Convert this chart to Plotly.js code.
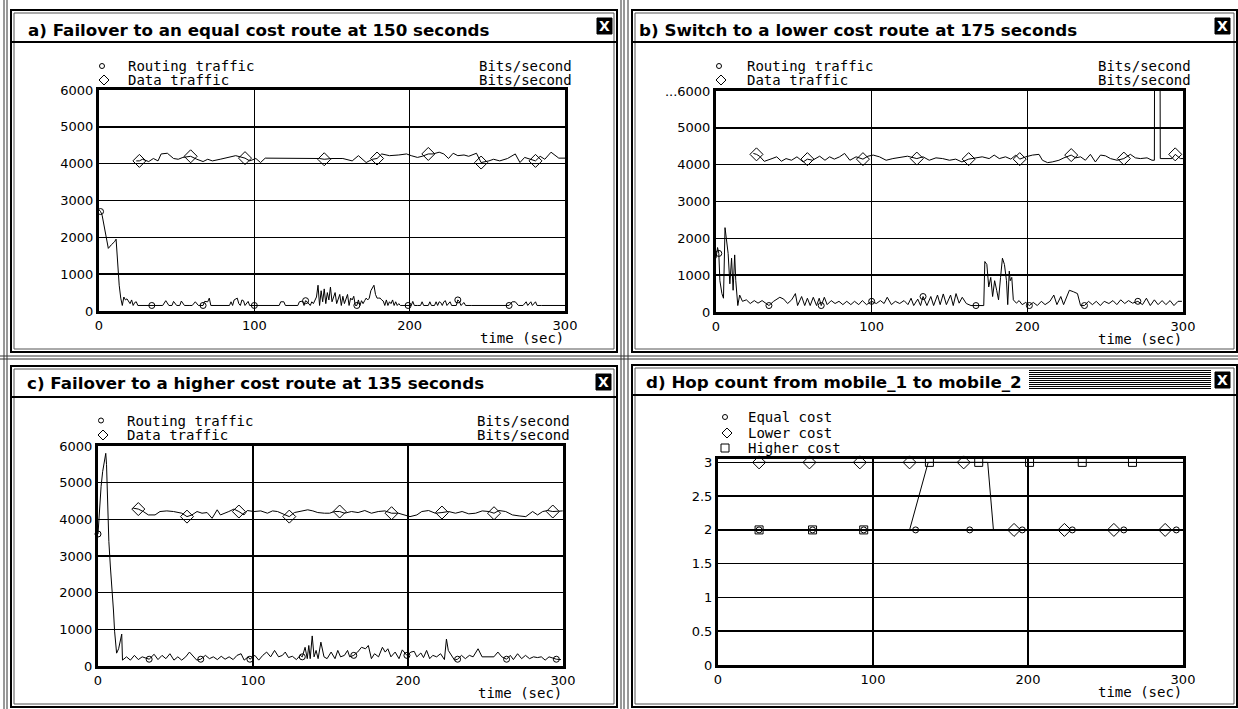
<!DOCTYPE html>
<html><head><meta charset="utf-8">
<script src="https://cdn.plot.ly/plotly-3.0.1.min.js"></script>
<style>html,body{margin:0;padding:0;background:#fff}#chart{width:1238px;height:709px}</style>
</head><body><div id="chart"></div>
<script>
// ---------------- DATA ----------------
const timeTicks = [0, 100, 200, 300];
const bitsTicks = [0, 1000, 2000, 3000, 4000, 5000, 6000];
const bitsTickText = ['0', '1000', '2000', '3000', '4000', '5000', '6000'];
const bitsTickTextB = ['0', '1000', '2000', '3000', '4000', '5000', '...6000'];
const hopTicks = [0, 0.5, 1, 1.5, 2, 2.5, 3];
const hopTickText = ['0', '0.5', '1', '1.5', '2', '2.5', '3'];

const titleA = 'a) Failover to an equal cost route at 150 seconds';
const titleB = 'b) Switch to a lower cost route at 175 seconds';
const titleC = 'c) Failover to a higher cost route at 135 seconds';
const titleD = 'd) Hop count from mobile_1 to mobile_2';
const legendTraffic = ['Routing traffic', 'Data traffic'];
const legendUnits = 'Bits/second';
const legendHop = ['Equal cost', 'Lower cost', 'Higher cost'];
const xAxisLabel = 'time (sec)';

// Panel a: [time, bits/sec]
const routingA = [[0,2750],[1,2700],[2,2600],[4,2100],[6,1700],[8,1800],[10,1880],[11,1950],[12,1300],[13,700],[14,350],[15,150],[16,380],[17,300],[18,330],[19,250],[20,200],[21,300],[22,150],[23,230],[24,250],[25,150],[27,150],[30,150],[34,150],[38,150],[41,150],[43,280],[45,150],[47,150],[48,260],[50,150],[52,150],[53,270],[55,150],[58,150],[60,150],[62,250],[64,150],[67,150],[68,260],[70,250],[71,350],[72,150],[75,150],[78,150],[81,150],[84,150],[85,250],[86,150],[87,300],[89,350],[90,200],[91,150],[92,300],[93,280],[94,150],[96,260],[97,150],[100,150],[104,150],[110,150],[116,150],[117,250],[119,250],[120,150],[125,150],[128,150],[129,250],[131,270],[132,150],[133,280],[134,250],[136,150],[137,250],[138,200],[140,380],[141,700],[142,150],[143,550],[144,250],[145,600],[146,200],[147,500],[148,300],[149,650],[150,250],[151,350],[152,500],[153,200],[154,300],[155,450],[156,150],[157,400],[158,200],[159,350],[160,450],[161,150],[162,350],[163,300],[164,400],[165,150],[166,150],[167,300],[168,150],[169,280],[170,200],[171,280],[172,350],[173,300],[174,350],[175,550],[176,650],[177,700],[178,450],[179,350],[180,350],[181,350],[182,300],[183,270],[184,150],[185,300],[186,150],[187,250],[188,200],[189,300],[190,150],[191,250],[192,150],[193,200],[194,150],[196,150],[199,150],[201,150],[202,260],[203,150],[205,150],[207,150],[208,250],[209,150],[212,150],[213,250],[214,150],[216,150],[217,250],[218,150],[219,250],[220,230],[221,150],[222,250],[223,280],[224,150],[226,250],[227,150],[230,150],[231,300],[232,260],[233,150],[235,230],[236,150],[240,150],[250,150],[258,150],[260,150],[264,150],[266,250],[268,250],[270,150],[273,150],[275,250],[276,150],[278,250],[279,150],[281,250],[282,150],[285,150],[290,150],[300,150]];
const routingAMarks = [1, 34, 67, 100, 133, 166, 199, 231, 264];
const dataA = [[24,4075],[26,4075],[28,4120],[32,4057],[35,4140],[38,4075],[40,4264],[44,4283],[48,4140],[51,4120],[54,4170],[59,4200],[63,4120],[67,4057],[70,4120],[73,4075],[78,4120],[84,4170],[88,4217],[94,4150],[97,4075],[101,4140],[104,4030],[107,4150],[114,4150],[122,4150],[133,4150],[142,4140],[145,4120],[150,4140],[157,4140],[163,4075],[167,4217],[172,4030],[176,4120],[179,4140],[182,4264],[187,4217],[193,4236],[198,4264],[201,4217],[205,4170],[208,4200],[212,4264],[215,4264],[219,4311],[222,4264],[225,4140],[228,4283],[231,4217],[235,4236],[238,4200],[243,4283],[246,4030],[251,4075],[254,4120],[258,4075],[263,4140],[268,4264],[271,4030],[274,4170],[281,4075],[284,4200],[287,4120],[291,4311],[296,4150],[300,4150]];
const dataAMarks = [26, 59, 94, 145, 179, 212, 246, 281];

// Panel b
const routingB = [[0,1460],[1,1750],[1.8,1590],[2.5,850],[3.8,500],[4.8,374],[5.8,2290],[6.8,1980],[7.8,1590],[8.9,765],[10,1460],[11,590],[12,1550],[12.7,850],[14,175],[15.2,460],[17,290],[19.5,330],[22,230],[24.6,310],[27,240],[29.6,310],[34,175],[37,290],[41,400],[43.5,350],[46,230],[48.6,330],[51,500],[52.4,175],[55,420],[57,175],[58.7,374],[60.5,175],[62.5,400],[64.6,175],[66.3,374],[67.6,175],[69.6,400],[71.4,200],[74,310],[76.5,230],[79,290],[81.5,200],[84,290],[86.6,200],[89,290],[91.7,200],[94,310],[96.7,200],[100,290],[103,230],[105.6,310],[108,230],[110,400],[112.7,200],[115.2,290],[118,230],[120.8,310],[123.3,200],[125.3,374],[127,175],[129.6,350],[131.4,175],[133,420],[135.5,175],[138,420],[139.8,175],[142.3,460],[144,200],[146,490],[148,200],[150.7,460],[152.4,175],[154.2,500],[156.2,240],[158.2,400],[160.8,230],[163.8,175],[167,175],[170,175],[172,175],[172.7,1370],[174,1290],[175.2,680],[176.5,940],[177.7,420],[179,850],[180.3,590],[181.5,330],[182.8,940],[184,1460],[185.3,1290],[186.6,850],[187.4,200],[188.4,1110],[189,850],[190,940],[191,330],[193,240],[194.7,310],[196.7,200],[199,260],[201.3,175],[203.8,260],[206.4,175],[209,290],[211.4,200],[214.5,290],[217,460],[219,200],[221.5,420],[223.3,200],[227,590],[229.6,550],[232.2,500],[234.2,175],[236.7,175],[239.3,290],[241.8,200],[244.3,290],[246.9,175],[249.4,290],[252.4,230],[255,310],[257.5,200],[260,330],[262.6,230],[265,310],[267.6,240],[271,290],[274,200],[276.5,374],[279,175],[281.6,330],[284,200],[286.6,310],[289,200],[291.7,310],[294.2,175],[296.8,290],[299.3,290]];
const routingBMarks = [1.8, 34, 67.6, 100, 133, 167, 201.3, 236.7, 271];
const dataB = [[24,4305],[26,4280],[28,4230],[31,4090],[36,4165],[39,4213],[42,4093],[45,4165],[48.5,4120],[52,4213],[56,4074],[58.7,4150],[62,4120],[66.6,4230],[70,4120],[73,4213],[76,4150],[79.4,4213],[82.6,4305],[86,4120],[90,4213],[94.4,4150],[97.6,4230],[101,4260],[105,4213],[109.3,4120],[113.6,4165],[118,4195],[123,4230],[129,4165],[133,4213],[137,4120],[141.3,4185],[145.6,4165],[150,4120],[154,4150],[158,4074],[162.3,4150],[167,4195],[171,4213],[175.5,4165],[178.7,4260],[182,4165],[186,4213],[189.4,4150],[192.6,4260],[195.1,4150],[199,4213],[203.3,4260],[207.5,4280],[209.7,4120],[213,4055],[216,4074],[220.3,4120],[223.5,4185],[228.2,4260],[231,4185],[234.2,4213],[237.3,4120],[240.5,4280],[243.7,4074],[247,4260],[250.2,4240],[253.4,4165],[257.7,4120],[262,4165],[266.2,4280],[269.4,4185],[272.6,4165],[276.9,4185],[280.1,4120],[281.6,4120],[282,12000],[285,12000],[285.4,4165],[288.6,4165],[292.9,4165],[295,4280],[298.3,4165],[300,4165]];
const dataBMarks = [26, 58.7, 94.4, 129, 162.3, 195.1, 228.2, 262, 295];

// Panel c
const routingC = [[0,3600],[1,4300],[2,4900],[3,5300],[4,5600],[5,5800],[5.5,5500],[6,4600],[7,3400],[8,2700],[9,2200],[10,1500],[10.7,950],[12,350],[13.3,470],[14.5,690],[15.3,870],[15.8,160],[17,200],[18.4,250],[20.9,160],[23.5,290],[26,175],[28.5,250],[33,185],[36.2,320],[38.7,175],[41.3,290],[43.8,200],[46.4,335],[49,160],[51.5,250],[54,160],[56.6,250],[59,380],[61.7,250],[63.7,160],[66.3,185],[69.3,290],[71.9,200],[74.4,250],[77,175],[79.5,265],[82,185],[84.6,250],[87.2,175],[89.7,290],[92.3,335],[94.3,160],[96.9,250],[98,185],[101.2,290],[103.7,160],[106.3,290],[108.8,380],[111.4,250],[113.9,425],[116.5,250],[119,290],[120.8,380],[122.9,230],[125.4,265],[128,175],[130.5,290],[131.8,250],[133.6,510],[135,200],[136,560],[136.9,200],[138.2,820],[139.4,250],[140.7,425],[142,200],[143.8,650],[145.8,250],[147.8,200],[150.4,380],[152.9,200],[154.7,425],[156.5,250],[159,290],[161,425],[162.4,250],[165,290],[167.5,380],[170,510],[172.6,470],[174.4,560],[176.4,200],[178.4,335],[181,250],[183.5,510],[185.3,380],[187,470],[189,250],[191.7,380],[194.2,200],[196.3,440],[198,335],[199.3,290],[201.9,380],[204,400],[205.7,250],[208.3,355],[210,230],[212,425],[214,200],[216,290],[218.5,250],[221,335],[223.5,175],[224.8,735],[226,425],[227.4,335],[230,160],[232,185],[234.5,290],[237,200],[239.6,290],[242,250],[245.2,470],[247.8,250],[250.3,250],[252.9,265],[255.4,250],[258,380],[260.5,250],[263.6,185],[266,290],[268,175],[270.7,335],[273.3,200],[275.8,290],[278.4,200],[281,250],[283.5,230],[286,250],[288.5,160],[291,250],[295.7,185],[298.7,175]];
const routingCMarks = [0, 33, 66.3, 98, 131.8, 165, 199.3, 232, 263.6, 295.7];
const dataC = [[22.7,4305],[26,4280],[29.2,4213],[32.5,4120],[36.8,4120],[40,4213],[44.4,4230],[48.7,4213],[54.1,4167],[57.4,4074],[60.6,4120],[63.9,4213],[67.1,4167],[70.4,4185],[73.6,4028],[76.9,4260],[79,4120],[81.2,4167],[84.4,4213],[87.7,4280],[90.9,4213],[94.2,4120],[96.3,4240],[100.7,4213],[105,4230],[109.3,4167],[112.6,4230],[115.8,4213],[118,4167],[120.2,4120],[123.4,4074],[126.7,4185],[131,4213],[135.3,4260],[138.6,4230],[141.8,4185],[146.1,4167],[149.4,4167],[152.6,4213],[155.9,4213],[159.1,4167],[163.5,4213],[167.8,4185],[172.1,4240],[176.4,4167],[180.8,4213],[185.1,4230],[189.4,4167],[193.8,4167],[198.1,4120],[201.3,4074],[205.7,4120],[208.9,4213],[213.3,4240],[217.6,4167],[221.9,4185],[226.2,4213],[230.6,4167],[234.9,4213],[239.2,4150],[243.6,4167],[247.9,4230],[252.2,4213],[255.5,4167],[258.7,4240],[263,4213],[267.4,4120],[271.7,4093],[276,4074],[280.4,4213],[283.6,4120],[286.9,4213],[290.1,4240],[293.4,4213],[297.7,4230],[299.8,4230]];
const dataCMarks = [26, 57.4, 90.9, 123.4, 155.9, 189.4, 221.9, 255.5, 293.4];

// Panel d: hop count
const hopEqual = [[25,2],[300,2]];
const hopEqualMarks = [26.5, 61, 94, 127.5, 162.4, 196.3, 228.6, 261.8, 295.7];
const hopLower = [[25,3],[174,3],[177.7,2],[300,2]];
const hopLowerMarks = [26.5, 59, 91.5, 123.6, 158.5, 191, 223.5, 255.4, 288.5];
const hopHigher = [[25,2],[123.6,2],[135.6,3],[300,3]];
const hopHigherMarks = [26.5, 61, 94, 136.4, 168.2, 201, 235, 267.4];

// ---------------- LAYOUT HELPERS ----------------
const W = 1238, H = 709;
const fx = x => x / W, fy = y => 1 - y / H;
function interp(series, t) {
  for (let i = 0; i < series.length - 1; i++) {
    const [t0, v0] = series[i], [t1, v1] = series[i + 1];
    if (t >= t0 && t <= t1) return t1 === t0 ? v0 : v0 + (v1 - v0) * (t - t0) / (t1 - t0);
  }
  return series[series.length - 1][1];
}
const BLACK = '#000';
const MONO = 'DejaVu Sans Mono';
const SANS = 'DejaVu Sans';

const panels = [
  { ax: '', plot: [99, 90, 565, 311], frame: [11, 10, 617, 352], barY: 42, titleX: 26, titleY: 29.5, title: titleA,
    close: [597, 18, 612, 34], legY: [66, 80], legX: 102, legTextX: 126, unitsX: 574, timeY: 338,
    yTicks: bitsTicks, yText: bitsTickText, yRange: [0, 6000],
    series: [[routingA, routingAMarks, 'circle-open', 6], [dataA, dataAMarks, 'diamond-open', 10]] },
  { ax: '2', plot: [716, 91, 1183, 312], frame: [632, 10, 1237, 352], barY: 42, titleX: 637, titleY: 29.5, title: titleB,
    close: [1215, 18, 1230, 34], legY: [66, 80], legX: 719, legTextX: 745, unitsX: 1193, timeY: 339,
    yTicks: bitsTicks, yText: bitsTickTextB, yRange: [0, 6000],
    series: [[routingB, routingBMarks, 'circle-open', 6], [dataB, dataBMarks, 'diamond-open', 10]] },
  { ax: '3', plot: [98, 446, 563, 666], frame: [11, 366, 617, 707], barY: 397, titleX: 25, titleY: 383, title: titleC,
    close: [596, 374, 611, 390], legY: [420.5, 435], legX: 101, legTextX: 125, unitsX: 572, timeY: 693,
    yTicks: bitsTicks, yText: bitsTickText, yRange: [0, 6000],
    series: [[routingC, routingCMarks, 'circle-open', 6], [dataC, dataCMarks, 'diamond-open', 10]] },
  { ax: '4', plot: [718, 459, 1183, 665], frame: [632, 365, 1237, 707], barY: 395, titleX: 644, titleY: 381.5, title: titleD,
    close: [1215, 372, 1230, 388], legY: [417, 433, 448], legX: 725, legTextX: 746, unitsX: null, timeY: 692,
    yTicks: hopTicks, yText: hopTickText, yRange: [0, 3.05],
    series: [[hopEqual, hopEqualMarks, 'circle-open', 6], [hopLower, hopLowerMarks, 'diamond-open', 10], [hopHigher, hopHigherMarks, 'square-open', 8]] }
];

const traces = [], shapes = [], annotations = [];
const layout = {
  width: W, height: H, margin: { l: 0, r: 0, t: 0, b: 0 },
  paper_bgcolor: '#fff', plot_bgcolor: '#fff', showlegend: false,
  font: { family: SANS, color: BLACK }
};

panels.forEach((p, pi) => {
  const [L, T, R, B] = p.plot;
  const xa = 'xaxis' + p.ax, ya = 'yaxis' + p.ax;
  const xr = 'x' + p.ax, yr = 'y' + p.ax;
  layout[xa] = {
    domain: [fx(L), fx(R)], range: [0, 300], anchor: yr,
    tickmode: 'array', tickvals: timeTicks, ticktext: timeTicks.map(String),
    showgrid: true, gridcolor: BLACK, gridwidth: 1.5, zeroline: false,
    showline: true, linecolor: BLACK, linewidth: 3, mirror: true, ticks: '',
    tickfont: { family: SANS, size: 13, color: BLACK }, fixedrange: true
  };
  layout[ya] = {
    domain: [fy(B), fy(T)], range: p.yRange, anchor: xr,
    tickmode: 'array', tickvals: p.yTicks, ticktext: p.yText,
    showgrid: true, gridcolor: BLACK, gridwidth: 1.5, zeroline: false,
    showline: true, linecolor: BLACK, linewidth: 3, mirror: true, ticks: '',
    tickfont: { family: SANS, size: 13, color: BLACK }, fixedrange: true
  };

  p.series.forEach(([ser, marks, sym, size]) => {
    traces.push({ x: ser.map(d => d[0]), y: ser.map(d => d[1]), xaxis: xr, yaxis: yr,
      mode: 'lines', line: { color: BLACK, width: 1 }, hoverinfo: 'skip' });
    traces.push({ x: marks, y: marks.map(t => interp(ser, t)), xaxis: xr, yaxis: yr,
      mode: 'markers', marker: { symbol: sym, size: size, color: BLACK, line: { color: BLACK, width: 1 } },
      hoverinfo: 'skip', cliponaxis: false });
  });

  // window frame
  const [fl, ft, fr, fb] = p.frame;
  shapes.push({ type: 'rect', xref: 'paper', yref: 'paper', x0: fx(fl), x1: fx(fr), y0: fy(fb), y1: fy(ft),
    line: { color: BLACK, width: 2 }, fillcolor: 'rgba(0,0,0,0)', layer: 'below' });
  shapes.push({ type: 'rect', xref: 'paper', yref: 'paper', x0: fx(fl + 3), x1: fx(fr - 3), y0: fy(fb - 3), y1: fy(ft + 3),
    line: { color: '#555', width: 1 }, fillcolor: 'rgba(0,0,0,0)', layer: 'below' });
  shapes.push({ type: 'line', xref: 'paper', yref: 'paper', x0: fx(fl), x1: fx(fr), y0: fy(p.barY), y1: fy(p.barY),
    line: { color: BLACK, width: 2 } });
  const [cl, ct, cr, cb] = p.close;
  shapes.push({ type: 'rect', xref: 'paper', yref: 'paper', x0: fx(cl), x1: fx(cr), y0: fy(cb), y1: fy(ct),
    line: { color: BLACK, width: 1 }, fillcolor: BLACK });
  annotations.push({ xref: 'paper', yref: 'paper', x: fx((cl + cr) / 2), y: fy((ct + cb) / 2), xanchor: 'center', yanchor: 'middle',
    text: '<b>X</b>', showarrow: false, font: { family: SANS, size: 14, color: '#fff' } });

  annotations.push({ xref: 'paper', yref: 'paper', x: fx(p.titleX), y: fy(p.titleY), xanchor: 'left', yanchor: 'middle',
    text: '<b>' + p.title + '</b>', showarrow: false, font: { family: SANS, size: 16.7, color: BLACK } });

  const names = pi === 3 ? legendHop : legendTraffic;
  names.forEach((nm, i) => {
    const cy = p.legY[i], cx = p.legX;
    annotations.push({ xref: 'paper', yref: 'paper', x: fx(p.legTextX), y: fy(cy), xanchor: 'left', yanchor: 'middle',
      text: nm, showarrow: false, font: { family: MONO, size: 14, color: BLACK } });
    if (p.unitsX) annotations.push({ xref: 'paper', yref: 'paper', x: fx(p.unitsX), y: fy(cy), xanchor: 'right', yanchor: 'middle',
      text: legendUnits, showarrow: false, font: { family: MONO, size: 14, color: BLACK } });
    const sym = p.series[i][2];
    if (sym === 'circle-open') {
      shapes.push({ type: 'circle', xref: 'paper', yref: 'paper', x0: fx(cx - 2.5), x1: fx(cx + 2.5), y0: fy(cy + 2.5), y1: fy(cy - 2.5),
        line: { color: BLACK, width: 1 } });
    } else if (sym === 'diamond-open') {
      const d = 5;
      shapes.push({ type: 'path', xref: 'paper', yref: 'paper',
        path: `M ${fx(cx + 2)} ${fy(cy - d)} L ${fx(cx + 2 + d)} ${fy(cy)} L ${fx(cx + 2)} ${fy(cy + d)} L ${fx(cx + 2 - d)} ${fy(cy)} Z`,
        line: { color: BLACK, width: 1 } });
    } else {
      shapes.push({ type: 'rect', xref: 'paper', yref: 'paper', x0: fx(cx - 4), x1: fx(cx + 4), y0: fy(cy + 4), y1: fy(cy - 4),
        line: { color: BLACK, width: 1 } });
    }
  });

  annotations.push({ xref: 'paper', yref: 'paper', x: fx(R + 1), y: fy(p.timeY), xanchor: 'right', yanchor: 'middle',
    text: xAxisLabel, showarrow: false, font: { family: MONO, size: 14, color: BLACK } });
});

// striped (active) title bar of panel d
for (let i = 0; i < 10; i++) {
  const y = 370.5 + i * 2;
  shapes.push({ type: 'line', xref: 'paper', yref: 'paper', x0: fx(1029), x1: fx(1211), y0: fy(y), y1: fy(y),
    line: { color: BLACK, width: 1 } });
}
// outer desktop window edges
[[4, 0, 4, 709], [7, 0, 7, 709], [621, 0, 621, 709], [624, 0, 624, 709], [628, 0, 628, 709]].forEach(([x0, y0, x1, y1]) =>
  shapes.push({ type: 'line', xref: 'paper', yref: 'paper', x0: fx(x0), x1: fx(x1), y0: fy(y0), y1: fy(y1), line: { color: '#333', width: 1 }, layer: 'below' }));
[[0, 356, 1238, 356], [0, 359, 1238, 359]].forEach(([x0, y0, x1, y1]) =>
  shapes.push({ type: 'line', xref: 'paper', yref: 'paper', x0: fx(x0), x1: fx(x1), y0: fy(y0), y1: fy(y1), line: { color: '#333', width: 1 }, layer: 'below' }));

layout.shapes = shapes;
layout.annotations = annotations;
Plotly.newPlot('chart', traces, layout, { staticPlot: true, displayModeBar: false });
</script></body></html>
